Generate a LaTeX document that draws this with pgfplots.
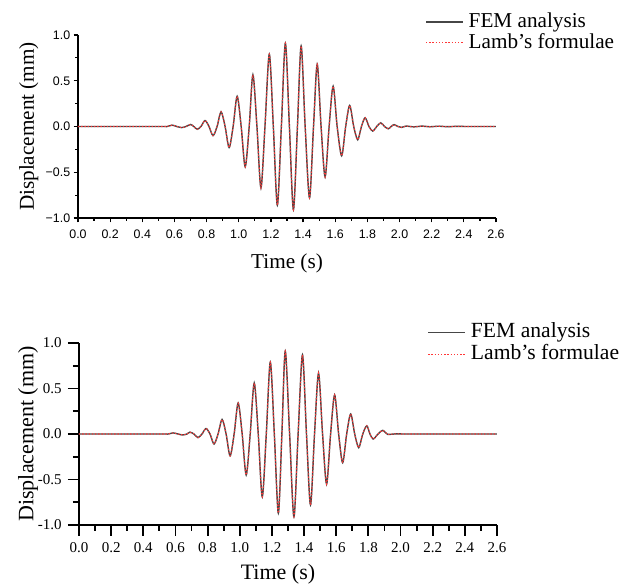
\documentclass[border=0pt]{standalone}
\usepackage{fontspec}
\setmainfont{Liberation Serif}
\newfontfamily\arialfont{Liberation Sans}
\usepackage{pgfplots}
\usepackage{pgfplotstable}
\pgfplotsset{compat=1.18}
\definecolor{femgray}{RGB}{70,70,70}
\definecolor{lambred}{RGB}{255,55,55}

% upper panel (peaks and zero crossings)
\pgfplotstableread{
t u
0.00 0
0.50 0
0.555 0
0.585 0.015
0.615 0
0.645 -0.012
0.672 0
0.70 0.022
0.72 0
0.742 -0.03
0.765 0
0.79 0.065
0.815 0
0.84 -0.10
0.865 0
0.89 0.16
0.915 0
0.94 -0.23
0.965 0
0.99 0.33
1.015 0
1.04 -0.44
1.065 0
1.088 0.565
1.113 0
1.138 -0.67
1.163 0
1.19 0.79
1.215 0
1.24 -0.86
1.265 0
1.29 0.91
1.315 0
1.34 -0.91
1.365 0
1.388 0.88
1.413 0
1.44 -0.78
1.465 0
1.488 0.68
1.512 0
1.537 -0.55
1.562 0
1.587 0.44
1.612 0
1.64 -0.32
1.665 0
1.69 0.23
1.715 0
1.74 -0.145
1.763 0
1.786 0.095
1.81 0
1.833 -0.05
1.858 0
1.883 0.04
1.907 0
1.93 -0.025
1.948 0
1.966 0.02
1.99 0
2.013 -0.01
2.04 0.004
2.09 -0.004
2.14 0.004
2.19 -0.003
2.24 0.003
2.30 -0.002
2.36 0.002
2.42 0
2.60 0
}\topdata

% lower panel
\pgfplotstableread{
t u
0.00 0
0.50 0
0.555 0
0.585 0.012
0.615 0
0.645 -0.01
0.672 0
0.69 0.02
0.715 0
0.74 -0.04
0.765 0
0.79 0.06
0.815 0
0.84 -0.11
0.865 0
0.89 0.16
0.915 0
0.94 -0.24
0.965 0
0.99 0.34
1.015 0
1.04 -0.45
1.065 0
1.09 0.56
1.115 0
1.14 -0.69
1.165 0
1.19 0.79
1.215 0
1.24 -0.87
1.262 0
1.283 0.91
1.31 0
1.337 -0.91
1.363 0
1.39 0.87
1.415 0
1.44 -0.78
1.465 0
1.49 0.67
1.515 0
1.54 -0.55
1.565 0
1.59 0.43
1.615 0
1.64 -0.315
1.665 0
1.69 0.22
1.715 0
1.74 -0.15
1.765 0
1.79 0.09
1.81 0
1.83 -0.055
1.86 0
1.889 0.04
1.92 -0.004
1.97 0.002
2.05 0
2.60 0
}\botdata

\begin{document}
\begin{tikzpicture}
\useasboundingbox (-39pt,-185pt) rectangle (272pt,109pt);
\pgfplotsset{
  panel/.style={
    scale only axis, width=209pt,
    xmin=0, xmax=2.6, ymin=-1, ymax=1,
    axis lines=left, axis line style={-},
    tick align=outside,
    xtick={0,0.2,0.4,0.6,0.8,1.0,1.2,1.4,1.6,1.8,2.0,2.2,2.4,2.6},
    xticklabels={0.0,0.2,0.4,0.6,0.8,1.0,1.2,1.4,1.6,1.8,2.0,2.2,2.4,2.6},
    ytick={-1,-0.5,0,0.5,1},
    minor x tick num=1, minor y tick num=1,
    tick style={black},
    xlabel={Time (s)}, ylabel={Displacement (mm)},
    legend cell align=left,
    legend image code/.code={\draw[##1] (0pt,0pt) -- (18.5pt,0pt);},
    clip=false,
  },
  fem/.style={color=femgray, line width=0.7pt, smooth},
  lamb/.style={color=lambred, line width=0.55pt, dash pattern=on 0.7pt off 0.9pt, smooth},
}
\begin{axis}[panel, at={(0pt,0pt)}, anchor=south west, height=91.5pt,
  axis line style={line width=0.6pt}, tick style={line width=0.6pt},
  major tick length=2.2pt, minor tick length=1.3pt,
  yticklabels={−1.0,−0.5,0.0,0.5,1.0},
  ticklabel style={font=\arialfont\fontsize{6.2}{7}\selectfont},
  xticklabel style={inner sep=1pt, yshift=-2.5pt},
  yticklabel style={inner sep=1.5pt},
  label style={font=\fontsize{10.6}{12}\selectfont},
  xlabel style={at={(axis description cs:0.5,-0.25)}, anchor=center},
  ylabel style={at={(axis description cs:-0.118,0.5)}, anchor=center},
  legend style={at={(axis description cs:0.83,1.131)}, anchor=north west,
    draw=none, fill=none, inner sep=0pt, row sep=0pt,
    font=\fontsize{10.6}{12}\selectfont,
    nodes={inner sep=0pt, text height=8pt, text depth=2.5pt},
    /tikz/every odd column/.append style={column sep=2.5pt}},
]
\addplot[fem] table[x=t, y=u] {\topdata};
\addplot[lamb] table[x=t, y=u] {\topdata};
\legend{FEM analysis, Lamb’s formulae}
\end{axis}

\begin{axis}[panel, at={(0.5pt,-153.5pt)}, anchor=south west, height=91pt,
  axis line style={line width=1pt}, tick style={line width=0.9pt},
  major tick length=5.5pt, minor tick length=3pt,
  yticklabels={-1.0,-0.5,0.0,0.5,1.0},
  ticklabel style={font=\fontsize{7.5}{9}\selectfont},
  xticklabel style={inner sep=1.5pt, yshift=-1.5pt},
  yticklabel style={inner sep=1.5pt, xshift=-1.5pt},
  label style={font=\fontsize{11}{12}\selectfont},
  xlabel style={at={(axis description cs:0.476,-0.27)}, anchor=center},
  ylabel style={at={(axis description cs:-0.122,0.5)}, anchor=center},
  legend style={at={(axis description cs:0.833,1.122)}, anchor=north west,
    draw=none, fill=none, inner sep=0pt, row sep=0pt,
    font=\fontsize{10.8}{12}\selectfont,
    nodes={inner sep=0pt, text height=8.2pt, text depth=3pt},
    /tikz/every odd column/.append style={column sep=2.5pt}},
]
\addplot[fem] table[x=t, y=u] {\botdata};
\addplot[lamb] table[x=t, y=u] {\botdata};
\legend{FEM analysis, Lamb’s formulae}
\end{axis}
\end{tikzpicture}
\end{document}
